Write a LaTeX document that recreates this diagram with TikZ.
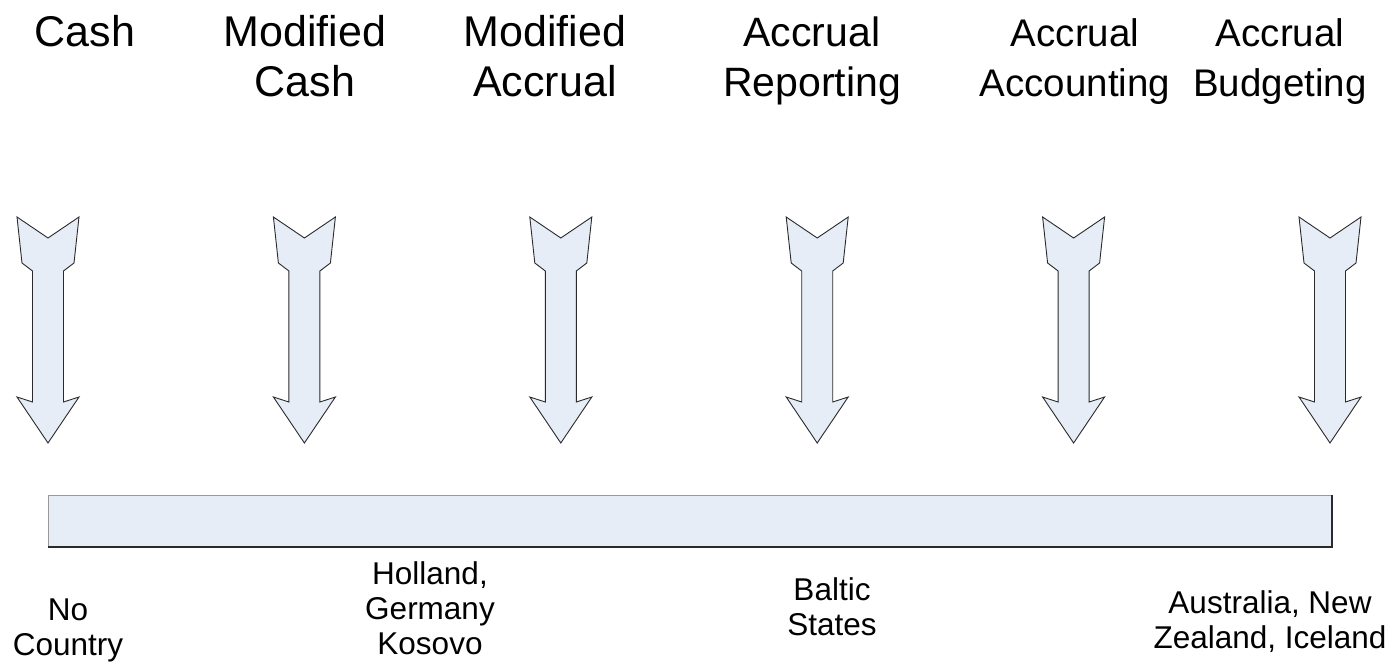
\documentclass[tikz,border=0pt]{standalone}
\usepackage{fontspec}
\setmainfont{Liberation Sans}
\definecolor{arrowfill}{HTML}{E6EDF7}
\definecolor{arrowline}{HTML}{2A2A2A}
\begin{document}
\begin{tikzpicture}[x=1pt,y=-1pt,
  toplabel/.style={inner sep=0pt,align=center,anchor=base,font=\fontsize{#1}{50}\selectfont},
  toplabel/.default=43,
  botlabel/.style={inner sep=0pt,align=center,anchor=base,font=\fontsize{31.5}{35}\selectfont},
  bigarrow/.style={fill=arrowfill,draw=arrowline,line width=0.9pt,line join=miter},
]
\useasboundingbox (0,0) rectangle (1397,663);
% arrows
\foreach \i/\cx in {1/48,2/304.4,3/560.8,4/817.2,5/1073.6,6/1330}{
  \draw[bigarrow] (\cx-31,217) -- (\cx,238) -- (\cx+31,217) -- (\cx+26,263) -- (\cx+15.5,271)
    -- (\cx+15.5,402) -- (\cx+31,397) -- (\cx,443) -- (\cx-31,397) -- (\cx-15.5,402)
    -- (\cx-15.5,271) -- (\cx-26,263) -- cycle;
}
% bar
\node[fill=arrowfill,draw=gray!80,line width=1pt,minimum width=1283pt,minimum height=51pt,inner sep=0pt,anchor=north west] (bar) at (48,495) {};
\draw[arrowline,line width=1.3pt] (bar.north east) -- (bar.south east) -- (bar.south west);
% top labels (anchor = baseline of last line)
\node[toplabel] (cash) at (85,47) {Cash};
\node[toplabel] (mcash) at (305,97) {Modified\\Cash};
\node[toplabel] (maccr) at (545,97) {Modified\\Accrual};
\node[toplabel=41] (arep) at (812,97) {Accrual\\Reporting};
\node[toplabel=38.5] (aacc) at (1075,97) {Accrual\\Accounting};
\node[toplabel=38.5] (abud) at (1280,97) {Accrual\\Budgeting};
% bottom labels (anchor = baseline of last line)
\node[botlabel] (nocountry) at (68,655) {No\\Country};
\node[botlabel] (holland) at (430,654) {Holland,\\Germany\\Kosovo};
\node[botlabel] (baltic) at (832,635) {Baltic\\States};
\node[botlabel] (aus) at (1270,648) {Australia, New\\Zealand, Iceland};
\end{tikzpicture}
\end{document}
